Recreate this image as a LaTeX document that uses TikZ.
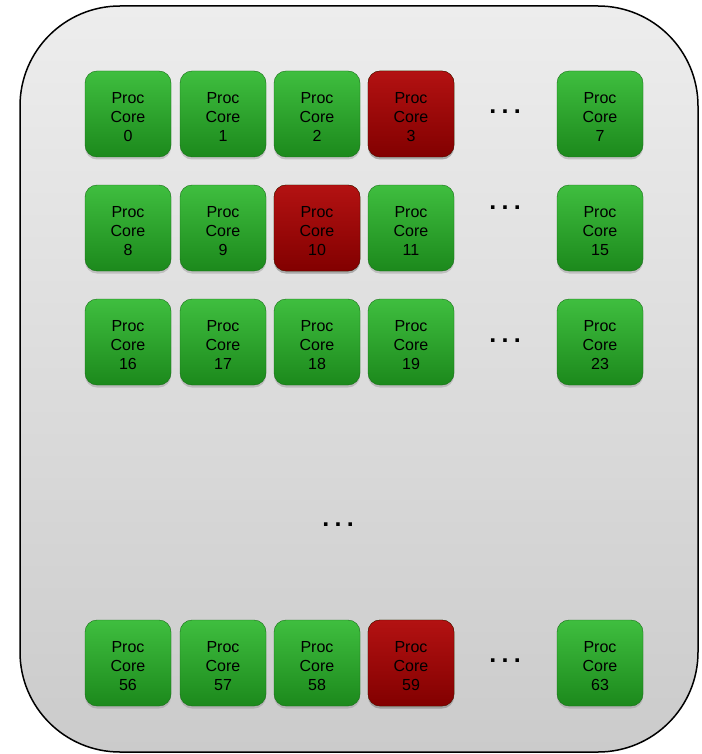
\documentclass[tikz,border=0pt]{standalone}
\usepackage{fontspec}
\setmainfont{Liberation Sans}
\usetikzlibrary{positioning,shadows}

\definecolor{chipbg1}{HTML}{EDEDED}
\definecolor{chipbg2}{HTML}{CBCBCB}
\definecolor{okhi}{HTML}{3FBE3F}
\definecolor{oklo}{HTML}{1C891C}
\definecolor{badhi}{HTML}{B31212}
\definecolor{badlo}{HTML}{820000}

\newcommand{\corelabel}[1]{\rule{0pt}{17.5pt}Proc\\Core\\#1}
\newcommand{\skipdots}{.\kern5.3pt.\kern5.3pt.}

\tikzset{
  core/.style={rounded corners=12pt, minimum width=86pt, minimum height=86pt,
    align=center, font=\fontsize{16}{19}\selectfont, inner sep=0pt,
    drop shadow={opacity=0.35, shadow xshift=0pt, shadow yshift=-2.5pt},
    top color=okhi, bottom color=oklo, draw=oklo!80!black, line width=0.4pt},
  badcore/.style={core, top color=badhi, bottom color=badlo, draw=badlo!80!black},
  gap/.style={font=\fontsize{25}{25}\bfseries\selectfont, inner sep=0pt, anchor=base}
}

\begin{document}
\begin{tikzpicture}[x=1pt,y=-1pt]
  \useasboundingbox (0,0) rectangle (701,754);
  \draw[line width=1.5pt, rounded corners=100pt, top color=chipbg1, bottom color=chipbg2]
    (20,6) rectangle (698,752);
  % rows of cores
  \foreach \r/\y/\base in {0/114/0, 1/228/8, 2/342/16, 3/663/56}{
    \foreach \c/\x in {0/128, 1/223, 2/317, 3/411}{
      \pgfmathtruncatemacro{\n}{\base+\c}
      \node[core] (c\n) at (\x,\y) {\corelabel{\n}};
    }
    \pgfmathtruncatemacro{\m}{\base+7}
    \node[core] (c\m) at (600,\y) {\corelabel{\m}};
  }
  \node[badcore] (c3) at (411,114) {\corelabel{3}};
  \node[badcore] (c10) at (317,228) {\corelabel{10}};
  \node[badcore] (c59) at (411,663) {\corelabel{59}};
  % skipped cores and rows
  \node[gap] (g0) at (505,114) {\skipdots};
  \node[gap] (g1) at (505,209) {\skipdots};
  \node[gap] (g2) at (505,342) {\skipdots};
  \node[gap] (g3) at (505,662) {\skipdots};
  \node[gap] (grow) at (338,526) {\skipdots};
\end{tikzpicture}
\end{document}
